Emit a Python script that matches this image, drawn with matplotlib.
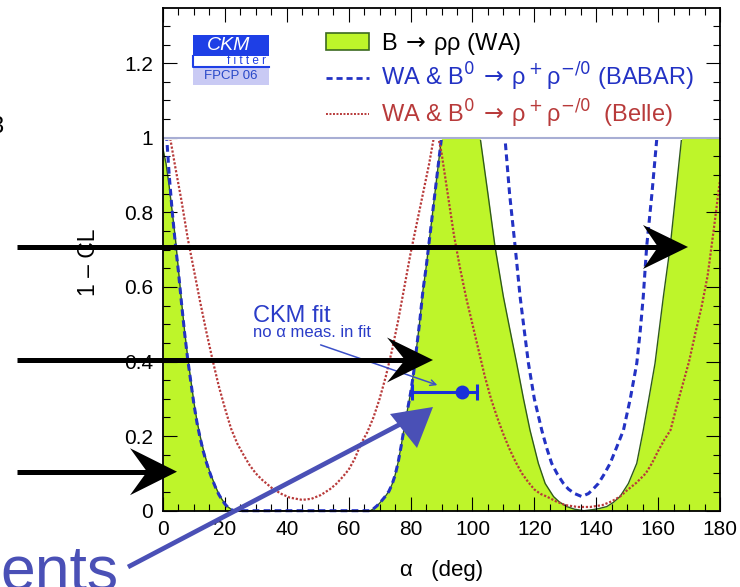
import numpy as np
import matplotlib
matplotlib.use("Agg")
import matplotlib.pyplot as plt
from matplotlib.patches import Rectangle, Polygon, Patch
from matplotlib.lines import Line2D

plt.rcParams['font.family'] = ['Liberation Sans', 'DejaVu Sans']
plt.rcParams['mathtext.default'] = 'rm'
plt.rcParams['mathtext.fontset'] = 'dejavusans'

# B -> rho rho (WA), 1-CL vs alpha
wa_alpha = [0, 1, 2, 3, 4, 5, 6, 7, 8, 9, 10, 11, 12, 13, 14, 15, 16, 17, 18, 19, 20, 21, 22, 23,
            67, 68, 69, 70, 71, 72, 73, 74, 75, 76, 77, 78, 79, 80, 81, 82, 83, 84, 85, 86, 87, 88, 89, 90,
            102.5, 103, 105, 107.3, 110, 112, 114.3, 116.5, 118.6, 121.3, 123.5, 126.2, 128, 130.5, 133,
            136, 139, 141, 143.4, 145.5, 147.7, 150.4, 153.1, 155.2, 157, 159, 161.7, 163.9, 165.7, 167.6, 180]
wa_cl = [0.97, 0.93, 0.87, 0.80, 0.73, 0.645, 0.56, 0.48, 0.41, 0.35, 0.29, 0.24, 0.2, 0.165, 0.135, 0.108,
         0.085, 0.064, 0.046, 0.031, 0.019, 0.01, 0.004, 0.0,
         0.0, 0.005, 0.012, 0.02, 0.03, 0.04, 0.052, 0.07, 0.095, 0.13, 0.175, 0.225, 0.27, 0.315, 0.37, 0.44,
         0.51, 0.59, 0.65, 0.72, 0.79, 0.86, 0.93, 1.0,
         1.0, 0.97, 0.85, 0.708, 0.574, 0.49, 0.395, 0.3, 0.216, 0.127, 0.073, 0.038, 0.024, 0.011, 0.004,
         0.0, 0.003, 0.006, 0.011, 0.022, 0.038, 0.073, 0.127, 0.216, 0.3, 0.395, 0.574, 0.708, 0.85, 1.0, 1.0]

# WA & B0 -> rho+ rho-/0 (BABAR)
babar_alpha = [0, 1.2, 2, 3, 4, 5, 6, 7, 8, 9, 10, 11, 12, 13, 14, 15, 16, 17, 18, 19, 20, 21, 22, 23,
               67, 68, 69, 70, 71, 72, 73, 74, 75, 76, 77, 78, 79, 80, 81, 82, 83, 84, 85, 86, 87, 88, 89, 90,
               110.5, 112, 113.8, 115.4, 116.8, 118.1, 120, 122.4, 124, 125.6, 127.5, 129.4, 131, 133, 135.3,
               137.5, 139, 140.7, 142.5, 144.5, 146.5, 148.8, 151, 153.1, 154.2, 155.2, 156.3, 158, 159.6, 180]
babar_cl = [1.0, 1.0, 0.9, 0.8, 0.715, 0.64, 0.555, 0.475, 0.405, 0.345, 0.285, 0.235, 0.195, 0.16, 0.13,
            0.105, 0.082, 0.062, 0.044, 0.03, 0.018, 0.009, 0.003, 0.0,
            0.0, 0.005, 0.012, 0.02, 0.03, 0.04, 0.052, 0.07, 0.095, 0.13, 0.175, 0.225, 0.27, 0.315, 0.37,
            0.44, 0.51, 0.59, 0.65, 0.72, 0.79, 0.86, 0.93, 1.0,
            1.0, 0.85, 0.708, 0.574, 0.48, 0.395, 0.3, 0.216, 0.168, 0.127, 0.097, 0.073, 0.058, 0.046, 0.038,
            0.046, 0.058, 0.073, 0.097, 0.127, 0.168, 0.216, 0.3, 0.395, 0.48, 0.574, 0.708, 0.85, 1.0, 1.0]

# WA & B0 -> rho+ rho-/0 (Belle)
belle_alpha = [0, 2.3, 4, 6, 8, 10, 12, 14, 16, 18, 20, 22, 24, 26, 28, 30, 32, 35, 38, 41, 45, 48, 51, 54,
               56, 58, 60, 62, 64, 66, 68, 70, 72, 74, 76, 78, 80, 82, 84, 86, 87.5, 89,
               90, 92, 94, 96, 98, 100, 102, 104, 106, 108, 110, 112, 114, 116, 118, 120, 122, 124, 127, 130,
               134, 138, 142, 145, 147.7, 150, 153, 156, 158, 160, 162, 164, 166, 168, 170, 172, 174, 176,
               178, 180]
belle_cl = [1.0, 1.0, 0.92, 0.83, 0.73, 0.645, 0.56, 0.48, 0.405, 0.335, 0.275, 0.22, 0.18, 0.15, 0.122,
            0.1, 0.083, 0.062, 0.046, 0.035, 0.029, 0.032, 0.042, 0.058, 0.072, 0.09, 0.11, 0.14, 0.18, 0.21,
            0.25, 0.3, 0.36, 0.43, 0.51, 0.6, 0.69, 0.77, 0.85, 0.93, 1.0, 1.0,
            0.96, 0.85, 0.74, 0.65, 0.57, 0.5, 0.43, 0.36, 0.3, 0.25, 0.205, 0.165, 0.13, 0.1, 0.077, 0.057,
            0.045, 0.038, 0.025, 0.015, 0.01, 0.01, 0.015, 0.025, 0.038, 0.055, 0.075, 0.1, 0.127, 0.16,
            0.19, 0.216, 0.28, 0.34, 0.4, 0.475, 0.545, 0.63, 0.755, 0.887]

# CKM fit point (no alpha measurement)
ckm_alpha = 96.5
ckm_cl = 0.319
ckm_err = [[15.9], [5.1]]

labels = [r'B$\,\rightarrow\,$ρρ (WA)',
          r'WA & B$^0\,\rightarrow\,$ρ$^+$ρ$^{-/0}$ (BABAR)',
          r'WA & B$^0\,\rightarrow\,$ρ$^+$ρ$^{-/0}$  (Belle)']

green = '#bef52a'
blue = '#2332c4'
red = '#b83a3a'

W, H = 740, 587
fig = plt.figure(figsize=(W / 100, H / 100), dpi=100)
ax = fig.add_axes([163 / W, 1 - 510.7 / H, 557 / W, 502.7 / H])

def fx(x):
    return x / W

def fy(y):
    return 1 - y / H

fill = ax.fill_between(wa_alpha, wa_cl, 0, color=green, lw=0, zorder=1)
edge, = ax.plot(wa_alpha, wa_cl, color='#2f5a1a', lw=1.0, zorder=1.5)
bl, = ax.plot(babar_alpha, babar_cl, color=blue, lw=2.2, ls=(0, (2.2, 1.4)), zorder=2)
rd, = ax.plot(belle_alpha, belle_cl, color=red, lw=1.6, ls=(0, (1.0, 0.8)), zorder=2)

clip_fill = Rectangle((0, 0), 180, 1.0, transform=ax.transData)
clip_line = Rectangle((0, -0.1), 180, 1.095, transform=ax.transData)
fill.set_clip_path(clip_fill)
for a in (edge, bl, rd):
    a.set_clip_path(clip_line)

ax.axhline(1.0, color='#a8aed4', lw=1.5, zorder=2.2)

ax.errorbar([ckm_alpha], [ckm_cl], xerr=ckm_err, fmt='o', color='#1a30d8', ms=9, lw=2.2,
            capsize=6, capthick=2.2, zorder=4)

ax.set_xlim(0, 180)
ax.set_ylim(0, 1.348)
ax.set_xticks(np.arange(0, 181, 20))
ax.set_xticks(np.arange(0, 181, 5), minor=True)
ax.set_yticks([0, 0.2, 0.4, 0.6, 0.8, 1.0, 1.2])
ax.set_yticklabels(['0', '0.2', '0.4', '0.6', '0.8', '1', '1.2'])
ax.set_yticks(np.arange(0, 1.35, 0.05), minor=True)
ax.tick_params(which='both', direction='in', top=True, right=True, labelsize=15, pad=7)
ax.tick_params(which='major', length=10, width=0.8)
ax.tick_params(which='minor', length=5, width=0.8)
for s in ax.spines.values():
    s.set_linewidth(1.3)

ax.set_xlabel('α   (deg)', fontsize=16)
ax.xaxis.set_label_coords(0.5, -0.098)
ax.set_ylabel('1 – CL', fontsize=16.5)
ax.yaxis.set_label_coords(-0.113, 0.495)

# legend
handles = [Patch(facecolor=green, edgecolor='#3c6a20', lw=1.2),
           Line2D([], [], color=blue, lw=2, ls=(0, (2.2, 1.4))),
           Line2D([], [], color=red, lw=1.4, ls=(0, (1.0, 0.8)))]
leg = ax.legend(handles, labels, loc='upper left', bbox_to_anchor=(fx(326), fy(31)),
                bbox_transform=fig.transFigure, frameon=False, fontsize=17, handlelength=1.8,
                handletextpad=0.55, labelspacing=0.18, borderpad=0, borderaxespad=0)
for t, c in zip(leg.get_texts(), ['black', blue, red]):
    t.set_color(c)

# CKMfitter logo
fig.add_artist(Rectangle((fx(193), fy(56)), 76 / W, 21 / H, transform=fig.transFigure,
                         facecolor='#1e3fe6', edgecolor='none'))
fig.add_artist(Rectangle((fx(193), fy(85)), 76 / W, 18 / H, transform=fig.transFigure,
                         facecolor='#c9caf4', edgecolor='none'))
fig.add_artist(Line2D([fx(193), fx(193), fx(269)], [fy(56), fy(66.5), fy(66.5)],
                      transform=fig.transFigure, color='#1e3fe6', lw=1.5))
fig.text(fx(229), fy(46), 'CKM', color='white', fontsize=14, style='italic',
         ha='center', va='center')
fig.text(fx(266), fy(61.5), 'f i t t e r', color='#1e3fe6', fontsize=8.5,
         ha='right', va='center')
fig.text(fx(231), fy(76), 'FPCP 06', color='#2848c8', fontsize=9.5, ha='center', va='center')

# CKM fit annotation
fig.text(fx(253), fy(321.7), 'CKM fit', color='#2a3cc8', fontsize=17, va='baseline')
fig.text(fx(253), fy(336.7), 'no α meas. in fit', color='#2a3cc8', fontsize=12, va='baseline')
ax.annotate('', xy=(fx(440), fy(386)), xytext=(fx(318), fy(344)),
            xycoords='figure fraction', textcoords='figure fraction',
            arrowprops=dict(arrowstyle='->', color='#3c50c8', lw=1.1, mutation_scale=10))

# black arrows drawn over the figure
arrows = [(247, 688, 643, 658, 22), (360, 433, 387, 405, 22.5), (471.7, 177, 130, 147, 23.5)]
for y, tip, back, notch, hw in arrows:
    fig.add_artist(Line2D([fx(17), fx(notch + 4)], [fy(y), fy(y)], transform=fig.transFigure,
                          color='black', lw=3.6, solid_capstyle='butt', zorder=10))
    fig.add_artist(Polygon([(fx(tip), fy(y)), (fx(back), fy(y - hw)), (fx(notch), fy(y)),
                            (fx(back), fy(y + hw))], closed=True, transform=fig.transFigure,
                           facecolor='black', edgecolor='none', zorder=10))

# blue arrow from slide text
bcol = '#4a50b6'
fig.add_artist(Line2D([fx(128), fx(412)], [fy(567), fy(418)], transform=fig.transFigure,
                      color=bcol, lw=3.4, solid_capstyle='butt', zorder=10))
fig.add_artist(Polygon([(fx(433), fy(407)), (fx(390), fy(414)), (fx(417), fy(448))], closed=True,
                       transform=fig.transFigure, facecolor=bcol, edgecolor='none', zorder=10))
fig.text(0.0, fy(590), 'ents', color=bcol, fontsize=45, va='baseline', ha='left', zorder=10)
fig.text(fx(3), fy(127), '3', color='black', fontsize=17, ha='right', va='center')

fig.savefig('out.png', dpi=100)
